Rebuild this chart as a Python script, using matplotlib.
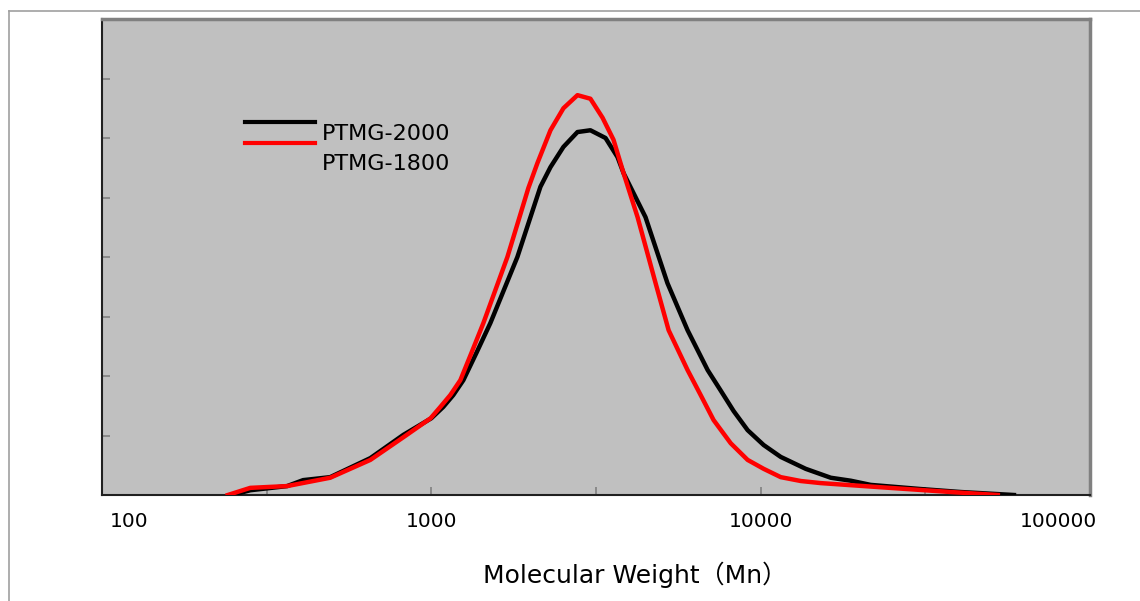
import matplotlib
matplotlib.use("Agg")
import matplotlib.pyplot as plt
from matplotlib.lines import Line2D
from matplotlib.transforms import ScaledTranslation

plt.rcParams['font.family'] = ['DejaVu Sans', 'Noto Sans CJK JP']

# PTMG-2000 (black)
mn_2000 = [248, 282, 365, 408, 493, 653, 822, 1000, 1087, 1166, 1251, 1371, 1511, 1825,
           2144, 2300, 2518, 2778, 3041, 3380, 3675, 3834, 4470, 5212, 5998, 6902, 7553,
           8279, 9128, 10210, 11507, 13700, 16326, 18780, 21580, 30620, 40550, 58750]
w_2000 = [0.0, 0.08, 0.15, 0.25, 0.30, 0.62, 1.01, 1.29, 1.48, 1.68, 1.93, 2.39, 2.89, 4.00,
          5.18, 5.51, 5.85, 6.10, 6.13, 6.00, 5.68, 5.41, 4.67, 3.56, 2.77, 2.10, 1.76,
          1.41, 1.09, 0.84, 0.64, 0.44, 0.29, 0.24, 0.17, 0.10, 0.05, 0.0]

# PTMG-1800 (red)
mn_1800 = [241, 282, 365, 493, 653, 822, 995, 1065, 1142, 1225, 1324, 1439, 1702, 1971,
           2100, 2300, 2518, 2778, 3041, 3311, 3574, 3834, 4229, 4797, 5254, 5998, 6573,
           7194, 8110, 9128, 10210, 11507, 13240, 15220, 23170, 37830, 52500]
w_1800 = [0.0, 0.12, 0.15, 0.29, 0.59, 0.97, 1.29, 1.48, 1.68, 1.93, 2.39, 2.89, 4.00, 5.16,
          5.58, 6.13, 6.50, 6.72, 6.66, 6.34, 5.97, 5.41, 4.67, 3.56, 2.77, 2.10, 1.68,
          1.26, 0.87, 0.59, 0.44, 0.30, 0.235, 0.20, 0.13, 0.05, 0.0]

xticks = [100, 1000, 10000, 100000]
xtick_labels = ['100', '1000', '10000', '100000']
half_decades = [316.2, 3162, 31623]

fig = plt.figure(figsize=(11.4, 6.01), dpi=100)
ax = fig.add_axes([102 / 1140, 106 / 601, 988 / 1140, 476 / 601])
ax.set_facecolor('#c0c0c0')

ax.plot(mn_2000, w_2000, color='black', lw=3.2, solid_joinstyle='round', zorder=3)
ax.plot(mn_1800, w_1800, color='#ff0000', lw=3.2, solid_joinstyle='round', zorder=4)

ax.set_xscale('log')
ax.set_xlim(100, 100000)
ax.set_ylim(0, 8)

ax.set_xticks(xticks, xtick_labels, fontsize=14.5)
ax.set_xticks(half_decades, minor=True)
ax.set_yticks(range(0, 9))
ax.set_yticklabels([])
ax.tick_params(axis='both', which='both', direction='in', color='#808080', length=6, width=1.2)
ax.tick_params(axis='x', which='major', pad=12)

labels = ax.get_xticklabels()
labels[0].set_ha('left')
labels[0].set_transform(labels[0].get_transform() + ScaledTranslation(8 / 100, 0, fig.dpi_scale_trans))
labels[-1].set_ha('right')
labels[-1].set_transform(labels[-1].get_transform() + ScaledTranslation(7 / 100, 0, fig.dpi_scale_trans))

for side in ['left', 'bottom']:
    ax.spines[side].set_color('#202020')
    ax.spines[side].set_linewidth(1.5)
for side in ['top', 'right']:
    ax.spines[side].set_color('#808080')
    ax.spines[side].set_linewidth(2.5)

fig.text(635 / 1140, 1 - 575 / 601, 'Molecular Weight（Mn）', fontsize=18, ha='center', va='center')

# legend drawn like the original (lines above, names offset)
fig.add_artist(Line2D([245 / 1140, 315 / 1140], [1 - 121.5 / 601] * 2, color='black', lw=3))
fig.add_artist(Line2D([245 / 1140, 315 / 1140], [1 - 142.5 / 601] * 2, color='#ff0000', lw=3))
fig.text(322 / 1140, 1 - 134 / 601, 'PTMG-2000', fontsize=16, va='center', ha='left')
fig.text(322 / 1140, 1 - 164 / 601, 'PTMG-1800', fontsize=16, va='center', ha='left')

# outer frame lines
fig.add_artist(Line2D([9 / 1140, 1], [1 - 11 / 601] * 2, color='#a0a0a0', lw=1.2))
fig.add_artist(Line2D([9 / 1140] * 2, [0, 1 - 11 / 601], color='#a0a0a0', lw=1.2))

fig.savefig('out.png', dpi=100)
